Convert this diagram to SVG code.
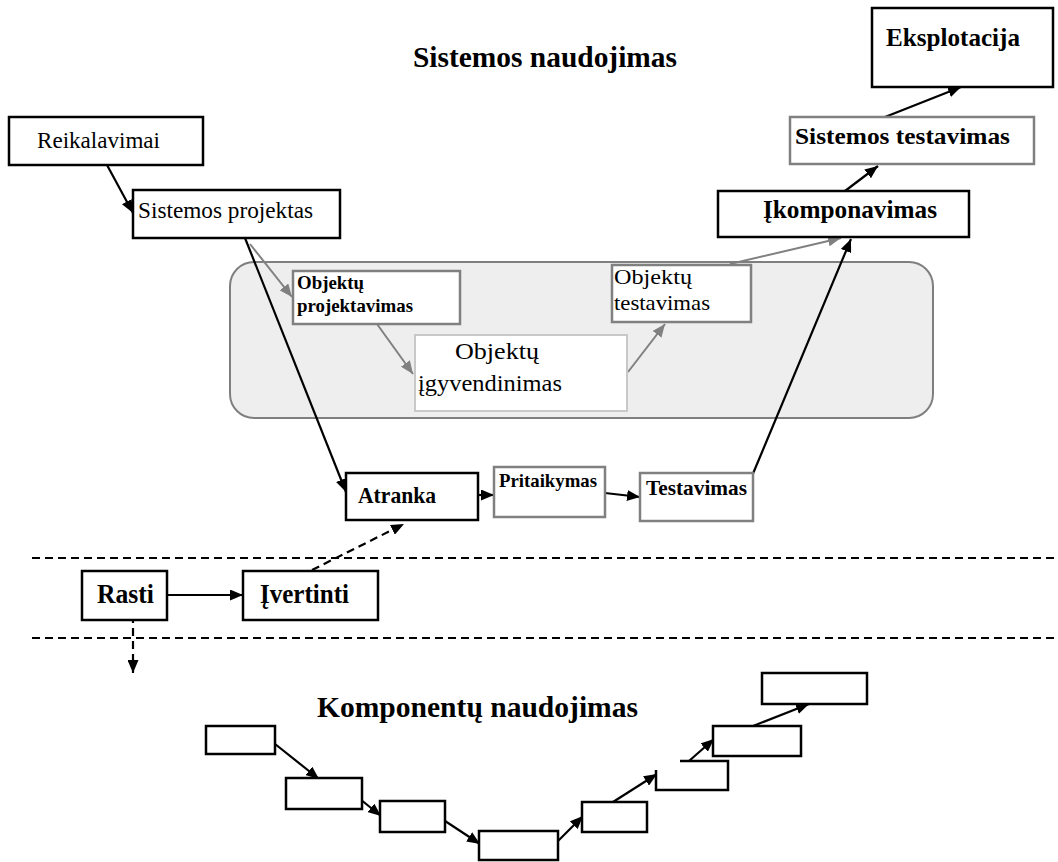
<svg xmlns="http://www.w3.org/2000/svg" width="1058" height="862" viewBox="0 0 1058 862">
  <style>
    text { font-family: "Liberation Serif", "Times New Roman", serif; fill: #000; }
    .b { font-weight: bold; }
    .box { fill: #fff; stroke: #000; stroke-width: 2.5; }
    .gbox { fill: #fff; stroke: #808080; stroke-width: 2.5; }
    .lbox { fill: #fff; stroke: #c8c8c8; stroke-width: 2; }
    .ln { stroke: #000; stroke-width: 2.2; fill: none; }
    .gl { stroke: #808080; stroke-width: 2; fill: none; }
    .dash { stroke: #000; stroke-width: 2.2; fill: none; stroke-dasharray: 8 5; }
  </style>
  <defs>
    <marker id="ah" markerUnits="userSpaceOnUse" markerWidth="13" markerHeight="11" refX="13" refY="5.5" orient="auto">
      <path d="M0,0 L13,5.5 L0,11 z" fill="#000"/>
    </marker>
    <marker id="ahg" markerUnits="userSpaceOnUse" markerWidth="13" markerHeight="11" refX="13" refY="5.5" orient="auto">
      <path d="M0,0 L13,5.5 L0,11 z" fill="#808080"/>
    </marker>
  </defs>

  <rect width="1058" height="862" fill="#fff"/>

  <!-- section titles -->
  <text class="b" x="413" y="67" font-size="30" textLength="264" lengthAdjust="spacingAndGlyphs">Sistemos naudojimas</text>
  <text class="b" x="317" y="717" font-size="30" textLength="321" lengthAdjust="spacingAndGlyphs">Komponentų naudojimas</text>

  <!-- object-level development area -->
  <g id="object-area">
    <rect x="230" y="262" width="703" height="156" rx="24" ry="24" fill="#eeeeee" stroke="#7f7f7f" stroke-width="2"/>
  </g>

  <!-- separators -->
  <g id="separators">
    <line class="dash" x1="32" y1="558" x2="1058" y2="558"/>
    <line class="dash" x1="32" y1="638" x2="1058" y2="638"/>
  </g>

  <g id="connectors">
    <line class="ln" x1="107" y1="165" x2="133" y2="213" marker-end="url(#ah)"/>
    <line class="ln" x1="245" y1="238" x2="346" y2="492" marker-end="url(#ah)"/>
    <line class="gl" x1="250" y1="244" x2="292" y2="297" marker-end="url(#ahg)"/>
    <line class="gl" x1="377" y1="324" x2="413" y2="374" marker-end="url(#ahg)"/>
    <line class="gl" x1="628" y1="372" x2="665" y2="324" marker-end="url(#ahg)"/>
    <line class="gl" x1="730" y1="264" x2="841" y2="238" marker-end="url(#ahg)"/>
    <line class="ln" x1="478" y1="495" x2="494" y2="495" marker-end="url(#ah)"/>
    <line class="ln" x1="605" y1="493" x2="640" y2="497" marker-end="url(#ah)"/>
    <line class="ln" x1="752" y1="476" x2="851" y2="239" marker-end="url(#ah)"/>
    <line class="ln" x1="845" y1="191" x2="878" y2="166" marker-end="url(#ah)"/>
    <line class="ln" x1="885" y1="117" x2="961" y2="87" marker-end="url(#ah)"/>
    <line class="ln" x1="167" y1="595" x2="243" y2="595" marker-end="url(#ah)"/>
    <line class="dash" x1="133" y1="615" x2="133" y2="673" marker-end="url(#ah)"/>
    <line class="dash" x1="312" y1="570" x2="404" y2="524" marker-end="url(#ah)"/>
    <!-- component-level staircase -->
    <line class="ln" x1="270" y1="740" x2="319" y2="779" marker-end="url(#ah)"/>
    <line class="ln" x1="355" y1="795" x2="381" y2="816" marker-end="url(#ah)"/>
    <line class="ln" x1="439" y1="817" x2="480" y2="844" marker-end="url(#ah)"/>
    <line class="ln" x1="554" y1="845" x2="583" y2="816" marker-end="url(#ah)"/>
    <line class="ln" x1="613" y1="802" x2="657" y2="774" marker-end="url(#ah)"/>
    <line class="ln" x1="689" y1="761" x2="714" y2="739" marker-end="url(#ah)"/>
    <line class="ln" x1="753" y1="726" x2="809" y2="704" marker-end="url(#ah)"/>
  </g>

  <g id="reikalavimai">
    <rect class="box" x="9" y="117" width="194" height="48"/>
    <text x="37" y="148" font-size="24" textLength="123" lengthAdjust="spacingAndGlyphs">Reikalavimai</text>
  </g>
  <g id="sistemos-projektas">
    <rect class="box" x="133" y="190" width="207" height="48"/>
    <text x="138" y="218" font-size="24" textLength="175" lengthAdjust="spacingAndGlyphs">Sistemos projektas</text>
  </g>
  <g id="eksplotacija">
    <rect class="box" x="872" y="8" width="181" height="79"/>
    <text class="b" x="886" y="46" font-size="26" textLength="134" lengthAdjust="spacingAndGlyphs">Eksplotacija</text>
  </g>
  <g id="sistemos-testavimas">
    <rect class="gbox" x="790" y="117" width="244" height="47"/>
    <text class="b" x="795" y="144" font-size="24" textLength="215" lengthAdjust="spacingAndGlyphs">Sistemos testavimas</text>
  </g>
  <g id="ikomponavimas">
    <rect class="box" x="718" y="191" width="251" height="46"/>
    <text class="b" x="763" y="218" font-size="25" textLength="174" lengthAdjust="spacingAndGlyphs">Įkomponavimas</text>
  </g>
  <g id="objektu-projektavimas">
    <rect class="gbox" x="293" y="271" width="167" height="53"/>
    <text class="b" x="297" y="289" font-size="19.5" textLength="67" lengthAdjust="spacingAndGlyphs">Objektų</text>
    <text class="b" x="297" y="312" font-size="19.5" textLength="116" lengthAdjust="spacingAndGlyphs">projektavimas</text>
  </g>
  <g id="objektu-igyvendinimas">
    <rect class="lbox" x="415" y="335" width="212" height="76"/>
    <text x="455" y="359" font-size="24" textLength="84" lengthAdjust="spacingAndGlyphs">Objektų</text>
    <text x="418" y="391" font-size="24" textLength="144" lengthAdjust="spacingAndGlyphs">įgyvendinimas</text>
  </g>
  <g id="objektu-testavimas">
    <rect class="gbox" x="612" y="265" width="139" height="57"/>
    <text x="614" y="284" font-size="21" textLength="78" lengthAdjust="spacingAndGlyphs">Objektų</text>
    <text x="614" y="310" font-size="21" textLength="96" lengthAdjust="spacingAndGlyphs">testavimas</text>
  </g>
  <g id="atranka">
    <rect class="box" x="346" y="473" width="132" height="47"/>
    <text class="b" x="358" y="503" font-size="23" textLength="78" lengthAdjust="spacingAndGlyphs">Atranka</text>
  </g>
  <g id="pritaikymas">
    <rect class="gbox" x="494" y="467" width="111" height="50"/>
    <text class="b" x="499" y="487" font-size="19" textLength="98" lengthAdjust="spacingAndGlyphs">Pritaikymas</text>
  </g>
  <g id="testavimas">
    <rect class="gbox" x="640" y="473" width="113" height="48"/>
    <text class="b" x="646" y="495" font-size="22" textLength="101" lengthAdjust="spacingAndGlyphs">Testavimas</text>
  </g>
  <g id="rasti">
    <rect class="box" x="82" y="571" width="85" height="49"/>
    <text class="b" x="97" y="603" font-size="27" textLength="57" lengthAdjust="spacingAndGlyphs">Rasti</text>
  </g>
  <g id="ivertinti">
    <rect class="box" x="243" y="571" width="135" height="49"/>
    <text class="b" x="260" y="603" font-size="27" textLength="89" lengthAdjust="spacingAndGlyphs">Įvertinti</text>
  </g>

  <!-- component-level steps -->
  <g id="step-1"><rect class="box" x="206" y="726" width="69" height="28"/></g>
  <g id="step-2"><rect class="box" x="286" y="778" width="76" height="31"/></g>
  <g id="step-3"><rect class="box" x="380" y="801" width="65" height="31"/></g>
  <g id="step-4"><rect class="box" x="479" y="831" width="79" height="29"/></g>
  <g id="step-5"><rect class="box" x="582" y="802" width="65" height="30"/></g>
  <g id="step-6"><path class="box" d="M680,761 L728,761 L728,790 L656,790 L656,770"/></g>
  <g id="step-7"><rect class="box" x="713" y="726" width="88" height="30"/></g>
  <g id="step-8"><rect class="box" x="762" y="673" width="105" height="31"/></g>
</svg>
